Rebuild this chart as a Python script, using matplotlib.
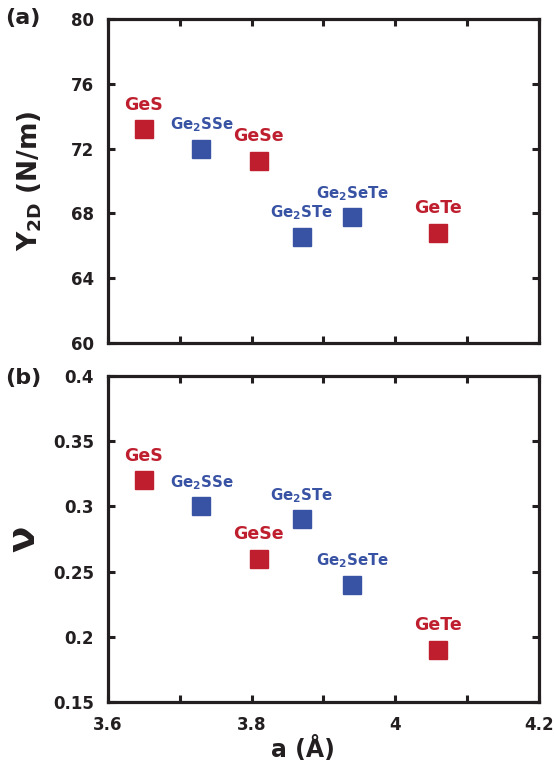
import matplotlib
matplotlib.use("Agg")
import matplotlib.pyplot as plt

plt.rcParams['font.family'] = ['DejaVu Sans']
plt.rcParams['font.weight'] = 'bold'
plt.rcParams['mathtext.fontset'] = 'dejavusans'
plt.rcParams['mathtext.default'] = 'bf'

# data
names = ["GeS", "Ge$_2$SSe", "GeSe", "Ge$_2$STe", "Ge$_2$SeTe", "GeTe"]
lattice = [3.65, 3.73, 3.81, 3.87, 3.94, 4.06]
young = [73.2, 72.0, 71.25, 66.55, 67.75, 66.8]
poisson = [0.32, 0.30, 0.26, 0.29, 0.24, 0.19]
janus = [False, True, False, True, True, False]

red = "#be1e2d"
blue = "#3953a4"
dark = "#231f20"

fig = plt.figure(figsize=(5.54, 7.65), dpi=100)
ax1 = fig.add_axes([108 / 554, 1 - 343 / 765, 431 / 554, 324 / 765])
ax2 = fig.add_axes([108 / 554, 1 - 702 / 765, 431 / 554, 326 / 765])


def draw(ax, yvals):
    for name, x, y, j in zip(names, lattice, yvals, janus):
        c = blue if j else red
        ax.plot(x, y, marker="s", ms=13, color=c, linestyle="none")
        ax.annotate(name, (x, y), xytext=(0, 14), textcoords="offset points",
                    ha="center", va="baseline", color=c,
                    fontsize=10.8 if j else 12.5, fontweight="bold")
    ax.set_xlim(3.6, 4.2)
    ax.set_xticks([3.6, 3.7, 3.8, 3.9, 4.0, 4.1, 4.2])
    for s in ax.spines.values():
        s.set_linewidth(2.3)
        s.set_color(dark)
    ax.tick_params(direction="in", length=5, width=2.2, top=True, right=True,
                   labelsize=12, colors=dark, pad=10)


draw(ax1, young)
ax1.set_ylim(60, 80)
ax1.set_yticks([60, 64, 68, 72, 76, 80])
ax1.set_xticklabels([])
ax1.set_ylabel("Y$_{2D}$ (N/m)", fontsize=19, fontweight="bold", color=dark, va="center")
ax1.yaxis.set_label_coords(-0.181, 0.5)

draw(ax2, poisson)
ax2.set_ylim(0.15, 0.4)
ax2.set_yticks([0.15, 0.2, 0.25, 0.3, 0.35, 0.4])
ax2.set_yticklabels(["0.15", "0.2", "0.25", "0.3", "0.35", "0.4"])
ax2.set_xticklabels(["3.6", "", "3.8", "", "4", "", "4.2"])
ax2.set_ylabel("ν", fontsize=28, fontweight="bold", color=dark, va="center")
ax2.yaxis.set_label_coords(-0.197, 0.5)
ax2.set_xlabel("a (Å)", fontsize=17, fontweight="bold", color=dark, va="center")
ax2.xaxis.set_label_coords(0.452, -0.144)

fig.text(5 / 554, 1 - 18 / 765, "(a)", fontsize=16, fontweight="bold", color=dark, va="center")
fig.text(5 / 554, 1 - 378 / 765, "(b)", fontsize=16, fontweight="bold", color=dark, va="center")

fig.savefig("out.png", dpi=100)
